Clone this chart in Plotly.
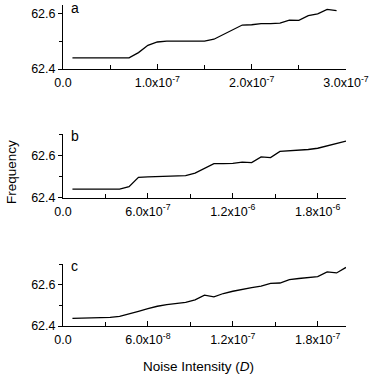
import plotly.graph_objects as go

# ---- data ----
x_a = [1e-8, 2e-8, 3e-8, 4e-8, 5e-8, 6e-8, 7e-8, 8e-8, 9e-8, 1.0e-7,
       1.1e-7, 1.2e-7, 1.3e-7, 1.4e-7, 1.5e-7, 1.6e-7, 1.7e-7, 1.8e-7, 1.9e-7, 2.0e-7,
       2.1e-7, 2.2e-7, 2.3e-7, 2.4e-7, 2.5e-7, 2.6e-7, 2.7e-7, 2.8e-7, 2.9e-7]
y_a = [62.44, 62.44, 62.44, 62.44, 62.44, 62.44, 62.44, 62.459, 62.485, 62.497,
       62.5, 62.5, 62.5, 62.5, 62.5, 62.507, 62.525, 62.543, 62.558, 62.559,
       62.563, 62.563, 62.565, 62.576, 62.575, 62.592, 62.598, 62.614, 62.61]

x_b = [6.667e-8, 1.333e-7, 2.0e-7, 2.667e-7, 3.333e-7, 4.0e-7, 4.667e-7, 5.333e-7, 6.0e-7, 6.667e-7,
       7.333e-7, 8.0e-7, 8.667e-7, 9.333e-7, 1.0e-6, 1.0667e-6, 1.1333e-6, 1.2e-6, 1.2667e-6, 1.3333e-6,
       1.4e-6, 1.4667e-6, 1.5333e-6, 1.6e-6, 1.6667e-6, 1.7333e-6, 1.8e-6, 1.8667e-6, 1.9333e-6, 2.0e-6]
y_b = [62.441, 62.441, 62.441, 62.441, 62.441, 62.441, 62.452, 62.496, 62.499, 62.5,
       62.5, 62.5, 62.504, 62.516, 62.539, 62.561, 62.561, 62.562, 62.568, 62.566,
       62.593, 62.590, 62.619, 62.621, 62.623, 62.628, 62.634, 62.646, 62.657, 62.668]

x_c = [6.667e-9, 1.333e-8, 2.0e-8, 2.667e-8, 3.333e-8, 4.0e-8, 4.667e-8, 5.333e-8, 6.0e-8, 6.667e-8,
       7.333e-8, 8.0e-8, 8.667e-8, 9.333e-8, 1.0e-7, 1.0667e-7, 1.1333e-7, 1.2e-7, 1.2667e-7, 1.3333e-7,
       1.4e-7, 1.4667e-7, 1.5333e-7, 1.6e-7, 1.6667e-7, 1.7333e-7, 1.8e-7, 1.8667e-7, 1.9333e-7, 2.0e-7]
y_c = [62.437, 62.438, 62.438, 62.440, 62.442, 62.447, 62.458, 62.471, 62.484, 62.496,
       62.504, 62.510, 62.515, 62.527, 62.550, 62.542, 62.558, 62.569, 62.579, 62.587,
       62.594, 62.607, 62.609, 62.626, 62.631, 62.634, 62.640, 62.663, 62.658, 62.685]

xtick_a = [0, 1e-7, 2e-7, 3e-7]
xtext_a = ["0.0", "1.0x10<sup>-7</sup>", "2.0x10<sup>-7</sup>", "3.0x10<sup>-7</sup>"]
xminor_a = [0.5e-7, 1.5e-7, 2.5e-7]

xtick_b = [0, 6e-7, 1.2e-6, 1.8e-6]
xtext_b = ["0.0", "6.0x10<sup>-7</sup>", "1.2x10<sup>-6</sup>", "1.8x10<sup>-6</sup>"]
xminor_b = [3e-7, 9e-7, 1.5e-6]

xtick_c = [0, 6e-8, 1.2e-7, 1.8e-7]
xtext_c = ["0.0", "6.0x10<sup>-8</sup>", "1.2x10<sup>-7</sup>", "1.8x10<sup>-7</sup>"]
xminor_c = [3e-8, 9e-8, 1.5e-7]

ytick = [62.4, 62.6]
ytext = ["62.4", "62.6"]
yminor = [62.5, 62.7]

panel_labels = ["a", "b", "c"]

FONT = "Arial, Liberation Sans, sans-serif"

fig = go.Figure()
series = [(x_a, y_a), (x_b, y_b), (x_c, y_c)]
for i, (xs, ys) in enumerate(series):
    sfx = "" if i == 0 else str(i + 1)
    fig.add_trace(go.Scatter(x=xs, y=ys, mode="lines",
                             line=dict(color="black", width=1.3),
                             xaxis="x" + sfx, yaxis="y" + sfx, showlegend=False))

domains = [[0.8006, 1.0], [0.3997, 0.5972], [0.0, 0.1922]]
xranges = [[0, 3e-7], [0, 2e-6], [0, 2e-7]]
yranges = [[62.4, 62.63], [62.4, 62.7], [62.4, 62.7]]
xticks = [(xtick_a, xtext_a, xminor_a), (xtick_b, xtext_b, xminor_b), (xtick_c, xtext_c, xminor_c)]

layout = dict(
    width=374, height=379,
    margin=dict(l=63, r=25, t=5, b=53),
    paper_bgcolor="white", plot_bgcolor="white",
    font=dict(family=FONT, size=12.5, color="black"),
)
for i in range(3):
    sfx = "" if i == 0 else str(i + 1)
    tv, tt, mv = xticks[i]
    layout["xaxis" + sfx] = dict(
        domain=[0, 1], range=xranges[i], anchor="y" + sfx,
        tickmode="array", tickvals=tv, ticktext=tt,
        ticks="inside", ticklen=5, tickwidth=1, tickcolor="black",
        minor=dict(tickmode="array", tickvals=mv, ticks="inside", ticklen=4, tickwidth=1, tickcolor="black"),
        showline=True, linecolor="black", linewidth=1,
        showgrid=False, zeroline=False, ticklabelstandoff=2,
        tickfont=dict(family=FONT, size=12.5, color="black"),
    )
    layout["yaxis" + sfx] = dict(
        domain=domains[i], range=yranges[i], anchor="x" + sfx,
        tickmode="array", tickvals=ytick, ticktext=ytext,
        ticks="outside", ticklen=4, tickwidth=1, tickcolor="black",
        minor=dict(tickmode="array", tickvals=yminor, ticks="outside", ticklen=3, tickwidth=1, tickcolor="black"),
        showline=True, linecolor="black", linewidth=1,
        showgrid=False, zeroline=False,
        tickfont=dict(family=FONT, size=12.5, color="black"),
    )

fig.update_layout(**layout)

annotations = []
for i, lab in enumerate(panel_labels):
    sfx = "" if i == 0 else str(i + 1)
    annotations.append(dict(text=lab, xref="x" + sfx + " domain", yref="y" + sfx + " domain",
                            x=0.02, y=0.955 if i == 0 else 0.97, xanchor="left", yanchor="middle",
                            showarrow=False, font=dict(family=FONT, size=14, color="black")))
annotations.append(dict(text="Frequency", xref="paper", yref="paper", x=-0.18, y=0.48,
                        xanchor="center", yanchor="middle", textangle=-90, showarrow=False,
                        font=dict(family=FONT, size=13.5, color="black")))
annotations.append(dict(text="Noise Intensity (<i>D</i>)", xref="paper", yref="paper", x=0.479, y=-0.125,
                        xanchor="center", yanchor="middle", showarrow=False,
                        font=dict(family=FONT, size=13.5, color="black")))
fig.update_layout(annotations=annotations)

fig.write_html("out.html", config={"displayModeBar": False},
               post_script="document.body.style.margin='0';document.body.style.padding='0';")
